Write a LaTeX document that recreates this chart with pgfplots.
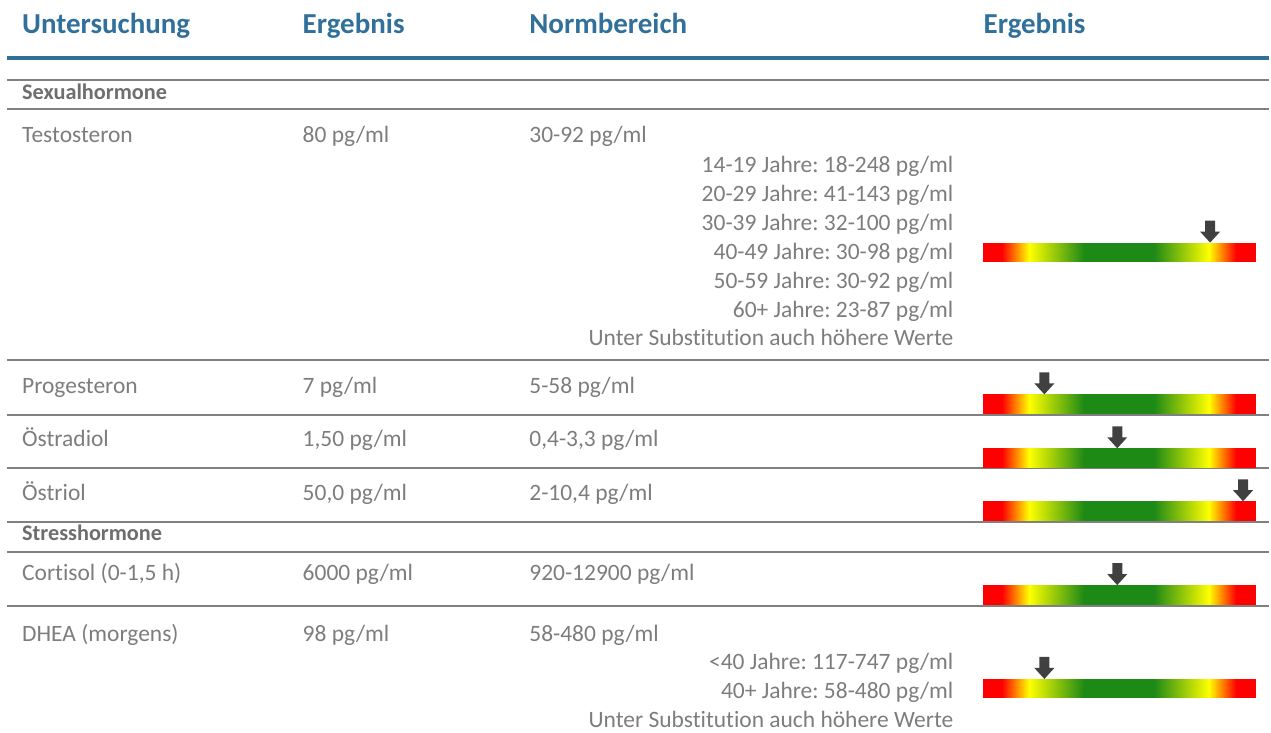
\documentclass[border=0pt]{standalone}
\usepackage{pgfplots}
\pgfplotsset{compat=1.18}
\usepackage{fontspec}
\setmainfont{Carlito}[Ligatures={NoCommon,NoRequired,NoContextual}]
\frenchspacing
\definecolor{hblue}{RGB}{48,112,155}
\definecolor{tgray}{RGB}{125,125,125}
\definecolor{cgray}{RGB}{110,110,110}
\definecolor{lgray}{RGB}{128,128,128}
\definecolor{agray}{RGB}{64,64,64}
\pgfdeclareplotmark{darr}{%
  \pgfpathmoveto{\pgfpoint{0pt}{0pt}}%
  \pgfpathlineto{\pgfpoint{10pt}{11pt}}%
  \pgfpathlineto{\pgfpoint{5pt}{11pt}}%
  \pgfpathlineto{\pgfpoint{5pt}{22pt}}%
  \pgfpathlineto{\pgfpoint{-5pt}{22pt}}%
  \pgfpathlineto{\pgfpoint{-5pt}{11pt}}%
  \pgfpathlineto{\pgfpoint{-10pt}{11pt}}%
  \pgfpathclose
  \pgfusepathqfill}
% gradient bar: #1 top, #2 bottom (pixel rows)
\newcommand\gradbar[2]{%
\addplot[patch, patch type=rectangle, shader=interp, point meta=explicit] coordinates {
(985,#1)[0] (1004,#1)[7] (1004,#2)[7] (985,#2)[0]
(1004,#1)[7] (1031,#1)[17] (1031,#2)[17] (1004,#2)[7]
(1031,#1)[17] (1086,#1)[37] (1086,#2)[37] (1031,#2)[17]
(1086,#1)[37] (1156,#1)[63] (1156,#2)[63] (1086,#2)[37]
(1156,#1)[63] (1211,#1)[83] (1211,#2)[83] (1156,#2)[63]
(1211,#1)[83] (1238,#1)[93] (1238,#2)[93] (1211,#2)[83]
(1238,#1)[93] (1257,#1)[100] (1257,#2)[100] (1238,#2)[93]
};}
\newcommand\body{\fontsize{23.5}{28}\selectfont}
\newcommand\cat{\fontsize{22.3}{26}\selectfont\bfseries}
\newcommand\head{\fontsize{29}{34}\selectfont\bfseries}
\newcommand\subst{Unter Subst\kern0pt itut\kern0pt ion auch höhere Werte}
\begin{document}
\begin{tikzpicture}
\begin{axis}[
  width=1271pt, height=734pt, scale only axis,
  xmin=0, xmax=1271, ymin=0, ymax=734, y dir=reverse,
  hide axis, clip=false,
  colormap={ryg}{rgb255(0)=(255,0,0) rgb255(7)=(255,0,0) rgb255(17)=(255,255,0)
    rgb255(37)=(30,138,22) rgb255(63)=(30,138,22) rgb255(83)=(255,255,0)
    rgb255(93)=(255,0,0) rgb255(100)=(255,0,0)},
  point meta min=0, point meta max=100,
]
\path (axis cs:0,0) rectangle (axis cs:1271,734);
% rules
\addplot[hblue, line width=4pt] coordinates {(7,58) (1271,58)};
\addplot[lgray, line width=2pt] coordinates {(7,80) (1271,80)};
\addplot[lgray, line width=2pt] coordinates {(7,109) (1271,109)};
\addplot[lgray, line width=2pt] coordinates {(7,361) (1271,361)};
\addplot[lgray, line width=2pt] coordinates {(7,416) (1271,416)};
\addplot[lgray, line width=2pt] coordinates {(7,469) (1271,469)};
\addplot[lgray, line width=2pt] coordinates {(7,523) (1271,523)};
\addplot[lgray, line width=2pt] coordinates {(7,553) (1271,553)};
\addplot[lgray, line width=2pt] coordinates {(7,607) (1271,607)};
% gradient bars
\gradbar{243}{262}
\gradbar{395}{414}
\gradbar{449}{468}
\gradbar{502}{521}
\gradbar{586}{605}
\gradbar{680}{699}
% result markers
\addplot[only marks, mark=darr, agray] coordinates {
(1212,243) (1046,395) (1119,449) (1245,502) (1119,586) (1046,680)};
% header
\node[anchor=base west, inner sep=0, text=hblue, font=\head] at (axis cs:22,34) {Untersuchung};
\node[anchor=base west, inner sep=0, text=hblue, font=\head] at (axis cs:303,34) {Ergebnis};
\node[anchor=base west, inner sep=0, text=hblue, font=\head] at (axis cs:530,34) {Normbereich};
\node[anchor=base west, inner sep=0, text=hblue, font=\head] at (axis cs:985,34) {Ergebnis};
% categories
\node[anchor=base west, inner sep=0, text=cgray, font=\cat] at (axis cs:22,100) {Sexualhormone};
\node[anchor=base west, inner sep=0, text=cgray, font=\cat] at (axis cs:22,541) {Stresshormone};
% rows
\begin{scope}[every node/.style={anchor=base west, inner sep=0, text=tgray, font=\body}]
\node at (axis cs:22,143) {Testosteron};
\node at (axis cs:303,143) {80 pg/ml};
\node at (axis cs:530,143) {30-92 pg/ml};
\node at (axis cs:22,394) {Progesteron};
\node at (axis cs:303,394) {7 pg/ml};
\node at (axis cs:530,394) {5-58 pg/ml};
\node at (axis cs:22,447.5) {Östradiol};
\node at (axis cs:303,447.5) {1,50 pg/ml};
\node at (axis cs:530,447.5) {0,4-3,3 pg/ml};
\node at (axis cs:22,501) {Östriol};
\node at (axis cs:303,501) {50,0 pg/ml};
\node at (axis cs:530,501) {2-10,4 pg/ml};
\node at (axis cs:22,581) {Cortisol (0-1,5 h)};
\node at (axis cs:303,581) {6000 pg/ml};
\node at (axis cs:530,581) {920-12900 pg/ml};
\node at (axis cs:22,642) {DHEA (morgens)};
\node at (axis cs:303,642) {98 pg/ml};
\node at (axis cs:530,642) {58-480 pg/ml};
\end{scope}
\begin{scope}[every node/.style={anchor=base east, inner sep=0, text=tgray, font=\body}]
\node at (axis cs:955,172.5) {14-19 Jahre: 18-248 pg/ml};
\node at (axis cs:955,201.5) {20-29 Jahre: 41-143 pg/ml};
\node at (axis cs:955,230.5) {30-39 Jahre: 32-100 pg/ml};
\node at (axis cs:955,259.5) {40-49 Jahre: 30-98 pg/ml};
\node at (axis cs:955,288.5) {50-59 Jahre: 30-92 pg/ml};
\node at (axis cs:955,317.5) {60+ Jahre: 23-87 pg/ml};
\node at (axis cs:955,346) {\subst};
\node at (axis cs:955,671) {<40 Jahre: 117-747 pg/ml};
\node at (axis cs:955,700) {40+ Jahre: 58-480 pg/ml};
\node at (axis cs:955,729) {\subst};
\end{scope}
\end{axis}
\end{tikzpicture}
\end{document}
